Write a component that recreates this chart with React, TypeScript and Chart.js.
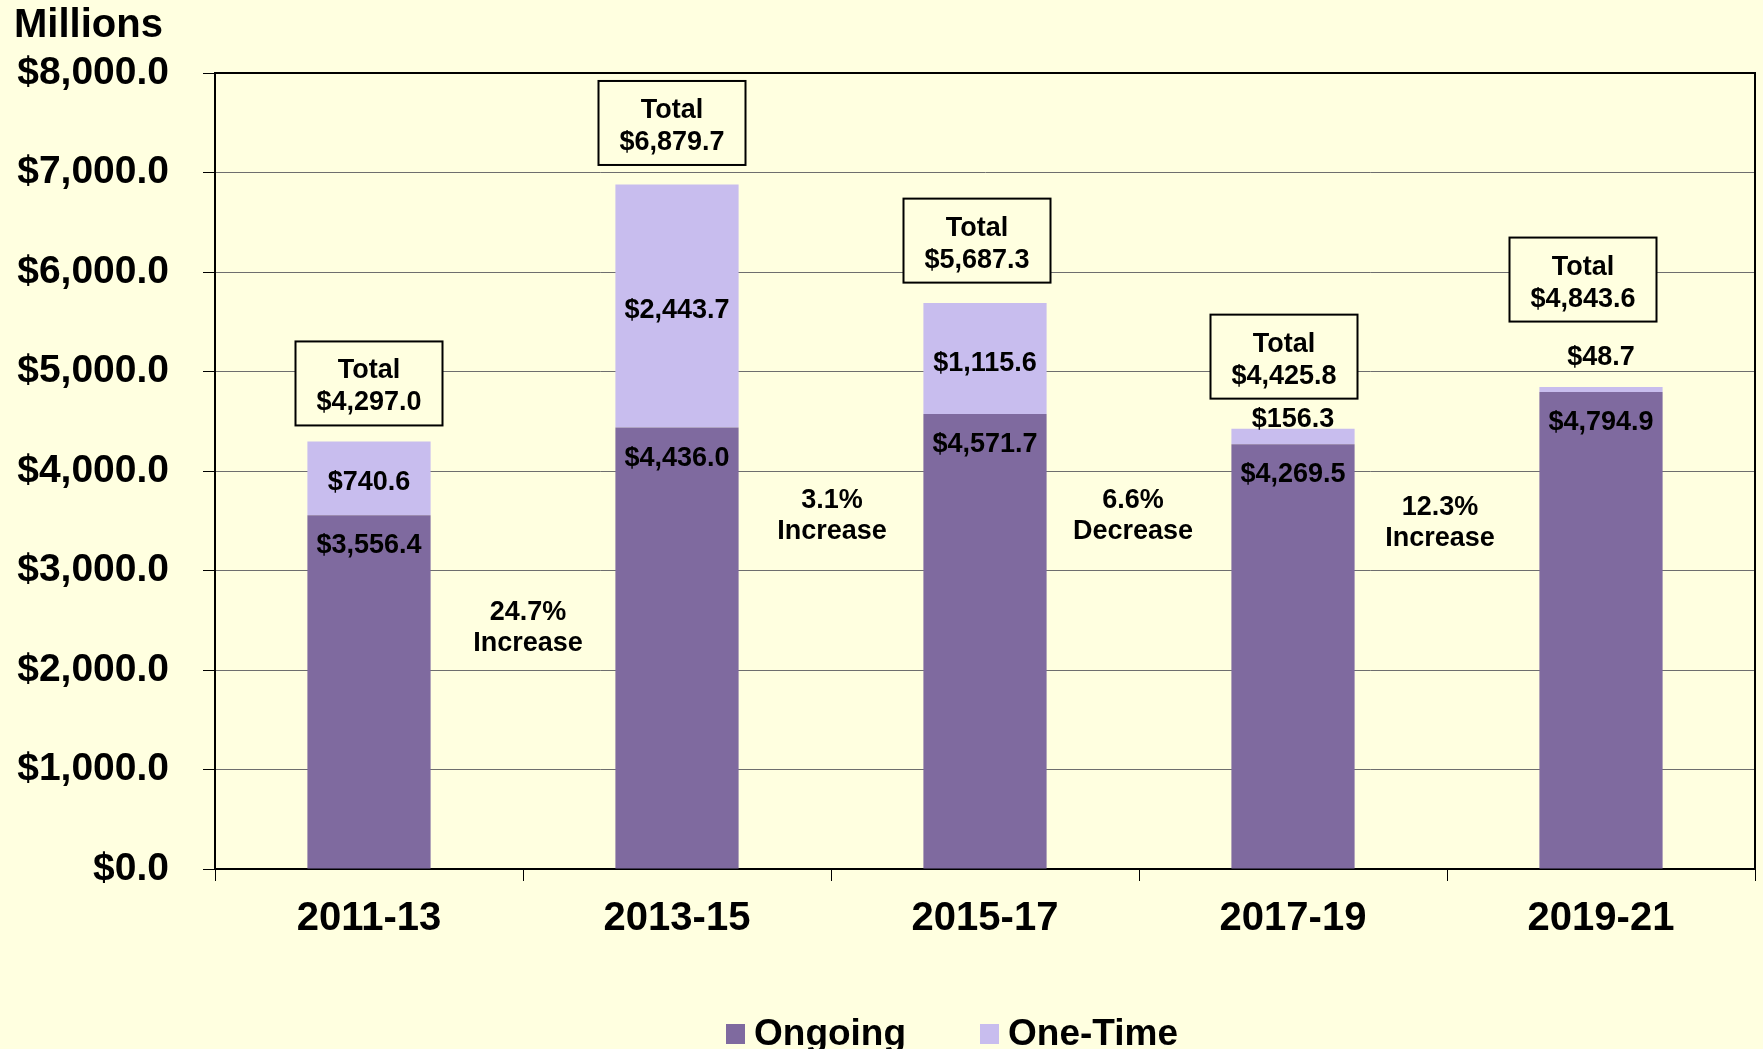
import React, { useEffect, useRef } from "react";
import { Chart, registerables } from "chart.js";

Chart.register(...registerables);

// ---- data ----
const categories = ["2011-13", "2013-15", "2015-17", "2017-19", "2019-21"];
const ongoing = [3556.4, 4436.0, 4571.7, 4269.5, 4794.9];
const oneTime = [740.6, 2443.7, 1115.6, 156.3, 48.7];
const changeLabels = [
  ["24.7%", "Increase"],
  ["3.1%", "Increase"],
  ["6.6%", "Decrease"],
  ["12.3%", "Increase"],
];
const seriesNames = ["Ongoing", "One-Time"];
const yMin = 0;
const yMax = 8000;
const yStep = 1000;

// ---- style / layout ----
const BG = "#ffffe0";
const C_ONGOING = "#7f6a9f";
const C_ONETIME = "#c8bdee";
const FONT = '"Liberation Sans", Arial, Helvetica, sans-serif';
const DY = 2.5; // visual centring correction for "middle" baseline
const totalBoxLift = [58, 61.5, 62.5, 72, 107.5];
const totalBoxShift = [0, -5, -8, -9, -18];
const oneTimeLabelLift: (number | null)[] = [null, null, null, 12, 32];
const changeLabelAnchor = [2442, 3568, 3568, 3503];
const changeLabelShift = [5, 1, -6, -7];

const fmt = (v: number) =>
  "$" + v.toLocaleString("en-US", { minimumFractionDigits: 1, maximumFractionDigits: 1 });

const annotations = {
  id: "annotations",
  beforeDraw(chart: any) {
    const ctx = chart.ctx;
    ctx.save();
    ctx.fillStyle = BG;
    ctx.fillRect(0, 0, chart.width, chart.height);
    ctx.restore();
  },
  afterDatasetsDraw(chart: any) {
    const ctx = chart.ctx;
    const xs = chart.scales.x;
    const ys = chart.scales.y;
    const m0 = chart.getDatasetMeta(0);
    const m1 = chart.getDatasetMeta(1);
    ctx.save();
    ctx.textAlign = "center";
    ctx.textBaseline = "middle";
    ctx.font = `bold 27px ${FONT}`;
    categories.forEach((_, i) => {
      const b0 = m0.data[i];
      const b1 = m1.data[i];
      ctx.fillStyle = "#000";
      ctx.fillText(fmt(ongoing[i]), b0.x, b0.y + 28 + DY);
      const lift = oneTimeLabelLift[i];
      const ly = lift == null ? (b1.y + b1.base) / 2 + 2 : b1.y - lift;
      ctx.fillText(fmt(oneTime[i]), b1.x, ly + DY);

      const total = Math.round((ongoing[i] + oneTime[i]) * 10) / 10;
      const cx = b1.x + totalBoxShift[i];
      const cy = ys.getPixelForValue(total) - totalBoxLift[i];
      const w = 147;
      const h = 84;
      ctx.fillStyle = BG;
      ctx.fillRect(cx - w / 2, cy - h / 2, w, h);
      ctx.strokeStyle = "#000";
      ctx.lineWidth = 2;
      ctx.strokeRect(cx - w / 2, cy - h / 2, w, h);
      ctx.fillStyle = "#000";
      ctx.fillText("Total", cx, cy - 15 + DY);
      ctx.fillText(fmt(total), cx, cy + 17 + DY);
    });
    changeLabels.forEach((lines, i) => {
      const bx = (xs.getPixelForValue(i) + xs.getPixelForValue(i + 1)) / 2 + changeLabelShift[i];
      const cy = ys.getPixelForValue(changeLabelAnchor[i]);
      ctx.fillStyle = "#000";
      ctx.fillText(lines[0], bx, cy - 15.5 + DY);
      ctx.fillText(lines[1], bx, cy + 15.5 + DY);
    });
    ctx.restore();
  },
  afterDraw(chart: any) {
    const ctx = chart.ctx;
    const a = chart.chartArea;
    ctx.save();
    // top & right frame
    ctx.strokeStyle = "#000";
    ctx.lineWidth = 2;
    ctx.beginPath();
    ctx.moveTo(a.left, a.top);
    ctx.lineTo(a.right, a.top);
    ctx.lineTo(a.right, a.bottom);
    ctx.stroke();
    // axis unit
    ctx.fillStyle = "#000";
    ctx.textAlign = "left";
    ctx.textBaseline = "alphabetic";
    ctx.font = `bold 40px ${FONT}`;
    ctx.fillText("Millions", 14, 37);
    // legend
    ctx.font = `bold 37px ${FONT}`;
    const items = [
      { x: 726, color: C_ONGOING, text: seriesNames[0] },
      { x: 980, color: C_ONETIME, text: seriesNames[1] },
    ];
    items.forEach((it) => {
      ctx.fillStyle = it.color;
      ctx.fillRect(it.x, 1024, 19, 20);
      ctx.fillStyle = "#000";
      ctx.fillText(it.text, it.x + 28, 1045);
    });
    ctx.restore();
  },
};

export default function App() {
  const ref = useRef<HTMLCanvasElement | null>(null);
  useEffect(() => {
    if (!ref.current) return;
    const chart = new Chart(ref.current, {
      type: "bar",
      data: {
        labels: categories,
        datasets: [
          { label: seriesNames[0], data: ongoing, backgroundColor: C_ONGOING, borderWidth: 0 },
          { label: seriesNames[1], data: oneTime, backgroundColor: C_ONETIME, borderWidth: 0 },
        ],
      },
      options: {
        responsive: false,
        animation: false,
        devicePixelRatio: 1,
        layout: { padding: { left: 0, right: 8, top: 73, bottom: 0 } },
        datasets: { bar: { barPercentage: 0.4, categoryPercentage: 1 } },
        plugins: { legend: { display: false }, tooltip: { enabled: false }, title: { display: false } },
        scales: {
          x: {
            stacked: true,
            offset: true,
            grid: {
              display: true,
              drawOnChartArea: false,
              drawTicks: true,
              tickLength: 12,
              color: "#000",
              offset: true,
            },
            border: { color: "#000", width: 2 },
            ticks: {
              color: "#000",
              padding: 14,
              font: { family: FONT, size: 40, weight: "bold" },
            },
            afterFit: (s: any) => {
              s.height = 180;
            },
          },
          y: {
            stacked: true,
            min: yMin,
            max: yMax,
            grid: {
              color: "#6e6e6e",
              lineWidth: 1,
              tickLength: 12,
              tickColor: "#000",
            },
            border: { color: "#000", width: 2 },
            ticks: {
              stepSize: yStep,
              color: "#000",
              padding: 34,
              font: { family: FONT, size: 39, weight: "bold" },
              callback: (v: any) => fmt(Number(v)),
            },
            afterFit: (s: any) => {
              s.width = 215;
            },
          },
        },
      },
      plugins: [annotations],
    } as any);
    return () => chart.destroy();
  }, []);
  return (
    <div style={{ position: "fixed", left: 0, top: 0, width: 1763, height: 1049, background: BG }}>
      <canvas ref={ref} width={1763} height={1049} style={{ display: "block", width: 1763, height: 1049 }} />
    </div>
  );
}
